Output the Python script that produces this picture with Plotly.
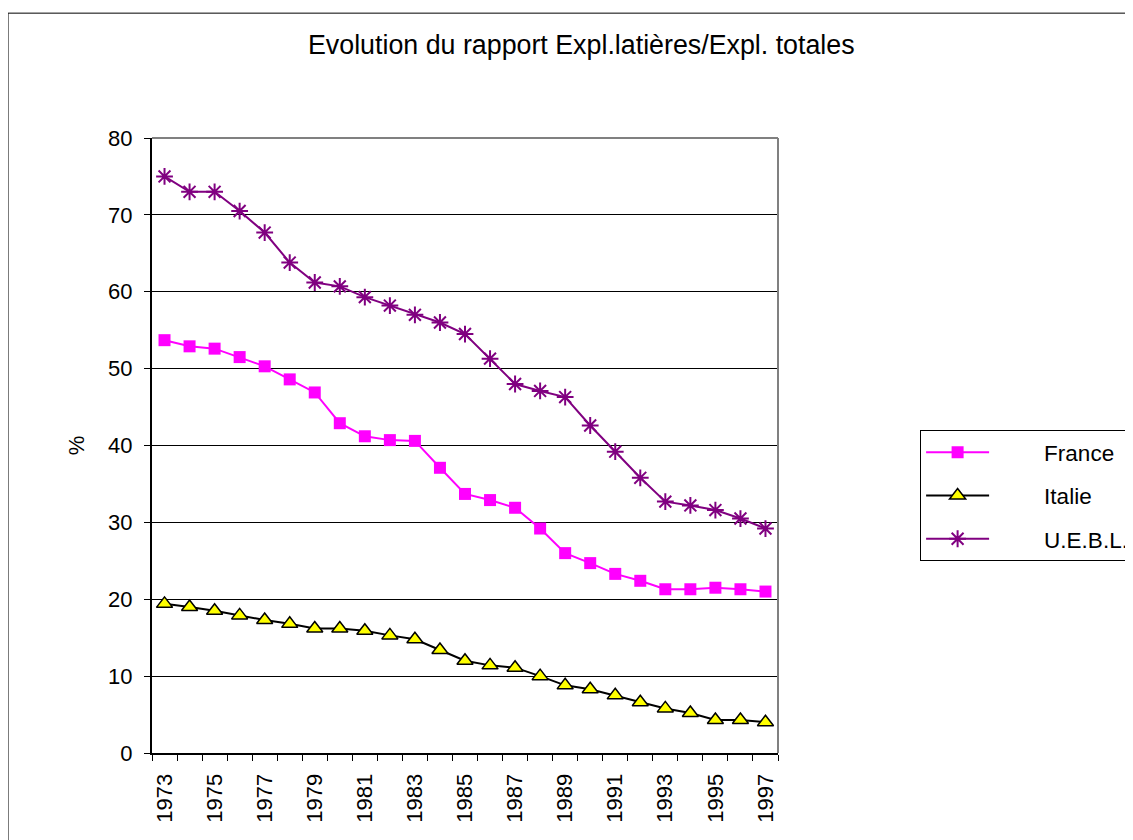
import plotly.graph_objects as go

years = list(range(1973, 1998))
france = [53.7, 52.9, 52.6, 51.5, 50.3, 48.6, 46.9, 42.9, 41.2, 40.7, 40.6, 37.1,
          33.7, 32.9, 31.9, 29.2, 26.0, 24.7, 23.3, 22.4, 21.3, 21.3, 21.5, 21.3, 21.0]
italie = [19.4, 19.0, 18.5, 17.9, 17.3, 16.8, 16.2, 16.2, 15.9, 15.3, 14.8, 13.4,
          12.0, 11.4, 11.1, 10.0, 8.8, 8.3, 7.5, 6.6, 5.8, 5.2, 4.3, 4.3, 4.0]
uebl = [75.0, 73.0, 73.0, 70.5, 67.7, 63.8, 61.2, 60.7, 59.3, 58.2, 57.0, 56.0,
        54.5, 51.3, 48.0, 47.1, 46.3, 42.6, 39.2, 35.8, 32.7, 32.2, 31.6, 30.5, 29.2]
tick_years = list(range(1973, 1998, 2))
y_ticks = list(range(0, 90, 10))

FONT = "Liberation Sans, Arial, sans-serif"
PAD = "\u00a0" * 8

fig = go.Figure()
fig.add_trace(go.Scatter(x=years, y=france, name=PAD + "France", mode="lines+markers",
                         legendgroup="a",
                         line=dict(color="#FF00FF", width=2),
                         marker=dict(symbol="square", size=12, color="#FF00FF")))
fig.add_trace(go.Scatter(x=years, y=italie, name=PAD + "Italie", mode="lines+markers",
                         legendgroup="b",
                         line=dict(color="#000000", width=2),
                         marker=dict(symbol="triangle-up", size=14, color="#FFFF00",
                                     line=dict(color="#000000", width=1.5))))
fig.add_trace(go.Scatter(x=years, y=uebl, name=PAD + "U.E.B.L.", mode="lines+markers",
                         legendgroup="c",
                         line=dict(color="#800080", width=2),
                         marker=dict(symbol="asterisk-open", size=14, color="#800080",
                                     line=dict(color="#800080", width=2))))

fig.update_layout(
    width=1133, height=840,
    margin=dict(l=144, r=363, t=130, b=95, autoexpand=False),
    paper_bgcolor="white", plot_bgcolor="white",
    font=dict(family=FONT, size=22, color="black"),
    title=dict(text="Evolution du rapport Expl.latières/Expl. totales",
               x=0.506, xanchor="center", y=0.956, yanchor="middle",
               font=dict(family=FONT, size=26.8, color="black")),
    showlegend=True,
    legend=dict(x=1.227, xanchor="left", y=0.525, yanchor="top",
                bordercolor="black", borderwidth=1, bgcolor="white",
                font=dict(family=FONT, size=22.5), itemwidth=63,
                tracegroupgap=11),
    xaxis=dict(range=[1972.5, 1997.5], tickmode="array", tickvals=tick_years,
               ticktext=[str(y) for y in tick_years], tickangle=-90,
               ticks="", showgrid=False, showline=True, linecolor="black",
               linewidth=2, zeroline=False, tickfont=dict(size=22),
               ticklabelstandoff=10,
               minor=dict(ticks="outside", tick0=1972.5, dtick=1, ticklen=6,
                          tickcolor="black", showgrid=False)),
    yaxis=dict(range=[0, 80], tickmode="array", tickvals=y_ticks,
               ticks="outside", ticklen=6, tickcolor="black",
               showgrid=True, gridcolor="black", gridwidth=1,
               showline=True, linecolor="black", linewidth=2, zeroline=False,
               tickfont=dict(size=22), ticklabelstandoff=7,
               title=dict(text="%", font=dict(size=22), standoff=17)),
    shapes=[
        dict(type="line", xref="paper", yref="paper", x0=1, x1=1, y0=0, y1=1,
             line=dict(color="#808080", width=2)),
        dict(type="line", xref="paper", yref="paper", x0=0, x1=1, y0=1, y1=1,
             line=dict(color="#808080", width=2)),
        dict(type="rect", xref="paper", yref="paper", x0=-0.23, x1=2, y0=1.203, y1=-0.5,
             line=dict(color="black", width=1), layer="below"),
    ],
)

fig.write_html("out.html")
